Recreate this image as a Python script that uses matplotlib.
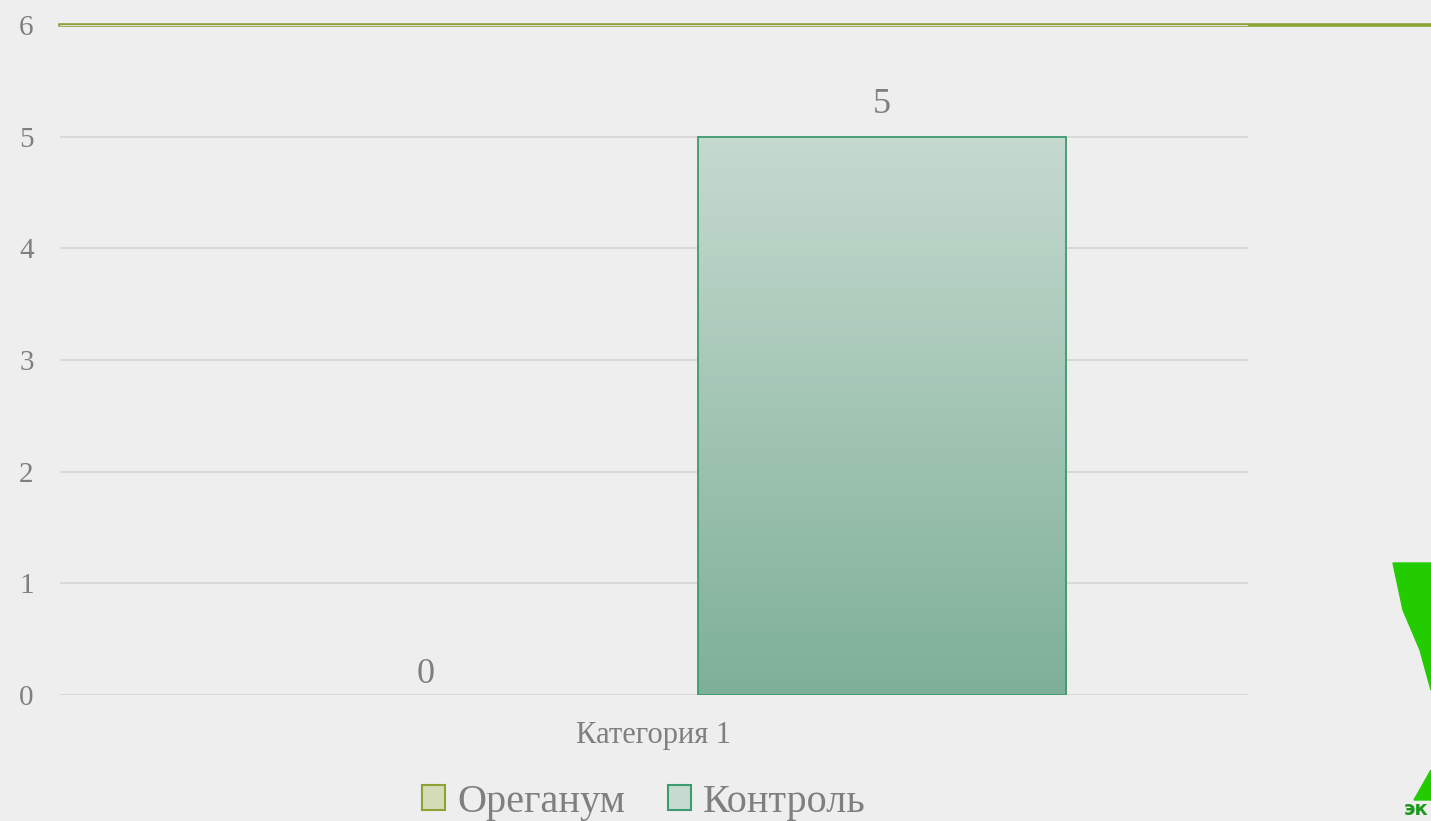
import matplotlib.pyplot as plt
import numpy as np
from matplotlib.patches import Rectangle, Polygon
from matplotlib.colors import LinearSegmentedColormap

# данные
categories = ['Категория 1']
series = ['Ореганум', 'Контроль']
values = [[0], [5]]
yticks = [0, 1, 2, 3, 4, 5, 6]

plt.rcParams['font.family'] = ['Liberation Serif', 'DejaVu Serif']
TXT = '#7f7f7f'
BG = '#eeeeee'

fig = plt.figure(figsize=(14.31, 8.21), dpi=100, facecolor=BG)

# зелёная линия сверху слайда
fig.add_artist(plt.Line2D([60 / 1431, 1.0], [1 - 25.5 / 821] * 2, color='#8ca334',
                          lw=2.6, zorder=0))

ax = fig.add_axes([60 / 1431, 1 - 695 / 821, 1188 / 1431, 670 / 821])
ax.set_facecolor('none')

edge = ['#8ca334', '#3e9a6f']
grad = [('#d4dcb8', '#a3b46e'), ('#c6dacf', '#7eb099')]
width = 0.31
offs = [-0.192, 0.192]
x = np.arange(len(categories))

for i, name in enumerate(series):
    bars = ax.bar(x + offs[i], values[i], width, color='none', edgecolor=edge[i],
                  lw=1.3, zorder=3, label=name)
    cmap = LinearSegmentedColormap.from_list('g%d' % i, [grad[i][1], grad[i][0]])
    for b, v in zip(bars, values[i]):
        if v > 0:
            im = ax.imshow(np.linspace(0, 1, 256).reshape(-1, 1), cmap=cmap, origin='lower',
                           extent=(b.get_x(), b.get_x() + b.get_width(), 0, v),
                           aspect='auto', zorder=2)
            im.set_clip_path(b)
        else:
            b.set_linewidth(0)
        ax.annotate(str(v), (b.get_x() + b.get_width() / 2, v), xytext=(0, 11 if v > 0 else 3),
                    textcoords='offset points', ha='center', va='bottom',
                    fontsize=26, color=TXT)

ax.set_xlim(-0.5, 0.5)
ax.set_ylim(0, 6)
ax.set_yticks(yticks)
ax.set_xticks(x)
ax.set_xticklabels(categories)
ax.grid(axis='y', color='#d9d9d9', lw=1.5, zorder=1)
ax.grid(axis='x', visible=False)
for s in ax.spines.values():
    s.set_visible(False)
ax.tick_params(axis='y', length=0, pad=19, labelsize=21, labelcolor=TXT)
ax.tick_params(axis='x', length=0, pad=19, labelsize=22, labelcolor=TXT)

# легенда
handles = [Rectangle((0, 0), 1, 1, facecolor=grad[i][0], edgecolor=edge[i], lw=1.5)
           for i in range(len(series))]
fig.legend(handles, series, loc='center', bbox_to_anchor=(644 / 1431, 1 - 802 / 821),
           ncol=2, frameon=False, fontsize=29, labelcolor=TXT, handlelength=0.57,
           handleheight=0.57, handletextpad=0.3, columnspacing=1.05, borderpad=0)

# логотип в углу
fig.add_artist(Polygon([[1393 / 1431, 1 - 563 / 821], [1.0, 1 - 563 / 821],
                        [1.0, 1 - 690 / 821], [1420 / 1431, 1 - 650 / 821],
                        [1403 / 1431, 1 - 610 / 821]], closed=True,
                       transform=fig.transFigure, color='#22cc00', zorder=0))
fig.add_artist(Polygon([[1414 / 1431, 1 - 800 / 821], [1.0, 1 - 770 / 821],
                        [1.0, 1 - 800 / 821]], closed=True,
                       transform=fig.transFigure, color='#22cc00', zorder=0))
fig.text(1404 / 1431, 0.002, 'эк', fontsize=14, fontweight='bold', color='#1a9a1a',
         family='DejaVu Sans', va='bottom')

fig.savefig('out.png', dpi=100, facecolor=BG)
